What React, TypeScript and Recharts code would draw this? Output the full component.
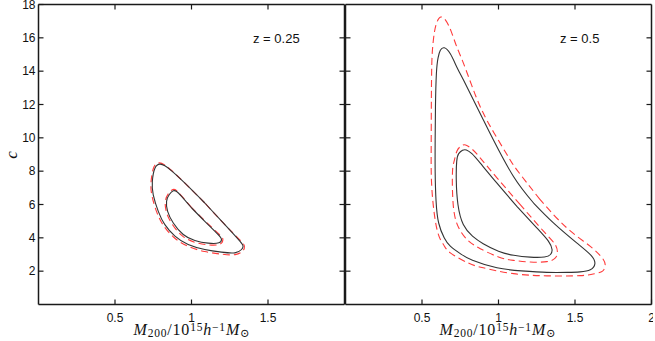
import React from "react";
import { ComposedChart, Line, XAxis, YAxis } from "recharts";

type Pt = [number, number];

const massTicksLeft = [0.5, 1, 1.5];
const massTicksRight = [0.5, 1, 1.5, 2];
const concTicks = [2, 4, 6, 8, 10, 12, 14, 16, 18];
const edgeTicks = [2, 4, 6, 8, 10, 12, 14, 16];
const panelLabels = ["z = 0.25", "z = 0.5"];

// z = 0.25, solid (black) contours
const lowOuter: Pt[] = [
  [1.087, 6.09], [0.957, 7.28], [0.87, 8.02], [0.826, 8.32], [0.794, 8.42], [0.761, 8.18],
  [0.744, 7.38], [0.75, 6.58], [0.783, 5.59], [0.826, 4.79], [0.892, 4.1], [0.978, 3.6],
  [1.087, 3.3], [1.196, 3.14], [1.283, 3.1], [1.327, 3.3], [1.337, 3.5], [1.316, 3.8],
  [1.218, 4.79], [1.087, 6.09],
];
const lowInner: Pt[] = [
  [1.001, 5.79], [0.935, 6.49], [0.903, 6.78], [0.881, 6.82], [0.855, 6.6], [0.837, 6.19],
  [0.844, 5.59], [0.881, 4.89], [0.946, 4.2], [1.022, 3.84], [1.109, 3.68], [1.179, 3.7],
  [1.196, 3.9], [1.174, 4.2], [1.087, 4.99], [1.001, 5.79],
];
// z = 0.25, dashed (red) contours
const lowOuterAlt: Pt[] = [
  [1.087, 6.09], [0.957, 7.28], [0.87, 8.04], [0.824, 8.38], [0.79, 8.5], [0.755, 8.26],
  [0.736, 7.4], [0.741, 6.55], [0.773, 5.54], [0.818, 4.72], [0.886, 4.02], [0.975, 3.5],
  [1.086, 3.18], [1.196, 3.02], [1.285, 2.99], [1.336, 3.22], [1.346, 3.5], [1.322, 3.82],
  [1.218, 4.79], [1.087, 6.09],
];
const lowInnerAlt: Pt[] = [
  [1.001, 5.81], [0.935, 6.52], [0.903, 6.83], [0.878, 6.9], [0.848, 6.64], [0.829, 6.19],
  [0.836, 5.55], [0.873, 4.83], [0.94, 4.12], [1.02, 3.74], [1.11, 3.58], [1.185, 3.62],
  [1.205, 3.9], [1.18, 4.22], [1.09, 5.0], [1.001, 5.81],
];

// z = 0.5, solid (black) contours
const highOuter: Pt[] = [
  [1.229, 6.09], [1.098, 7.68], [0.967, 9.87], [0.902, 11.06], [0.837, 12.26], [0.772, 13.45],
  [0.728, 14.24], [0.685, 15.04], [0.646, 15.4], [0.62, 15.25], [0.605, 14.8], [0.594, 13.85],
  [0.588, 11.86], [0.586, 9.87], [0.586, 8.0], [0.592, 6.2], [0.609, 4.89], [0.645, 4.0],
  [0.685, 3.5], [0.75, 3.05], [0.83, 2.65], [0.99, 2.2], [1.15, 2.02], [1.316, 1.93],
  [1.45, 1.93], [1.533, 1.96], [1.6, 2.08], [1.63, 2.45], [1.605, 2.95], [1.511, 3.7],
  [1.359, 4.9], [1.229, 6.09],
];
const highInner: Pt[] = [
  [1.12, 5.89], [0.99, 7.28], [0.881, 8.48], [0.826, 9.05], [0.79, 9.27], [0.765, 9.25],
  [0.74, 9.05], [0.727, 8.6], [0.724, 7.48], [0.735, 6.0], [0.77, 4.8], [0.83, 4.1],
  [0.9, 3.65], [1.0, 3.2], [1.1, 2.95], [1.207, 2.84], [1.3, 2.85], [1.34, 3.0],
  [1.35, 3.3], [1.326, 3.8], [1.25, 4.6], [1.12, 5.89],
];
// z = 0.5, dashed (red) contours
const highOuterAlt: Pt[] = [
  [1.272, 6.29], [1.12, 8.08], [1.055, 9.0], [0.924, 11.06], [0.837, 12.85], [0.772, 14.45],
  [0.728, 15.44], [0.69, 16.4], [0.655, 17.05], [0.622, 17.25], [0.598, 16.95], [0.581, 16.33],
  [0.568, 15.24], [0.563, 13.95], [0.561, 11.86], [0.56, 9.27], [0.565, 6.88], [0.598, 4.5],
  [0.64, 3.6], [0.685, 3.1], [0.8, 2.5], [0.9, 2.2], [1.098, 1.85], [1.316, 1.72],
  [1.533, 1.73], [1.63, 1.85], [1.68, 2.0], [1.696, 2.3], [1.685, 2.7], [1.598, 3.5],
  [1.446, 4.6], [1.272, 6.29],
];
const highInnerAlt: Pt[] = [
  [1.142, 5.99], [0.99, 7.6], [0.88, 8.8], [0.83, 9.3], [0.785, 9.57], [0.755, 9.5],
  [0.728, 9.2], [0.71, 8.6], [0.699, 7.88], [0.705, 5.89], [0.74, 4.6], [0.8, 3.85],
  [0.881, 3.35], [1.0, 2.85], [1.098, 2.65], [1.207, 2.55], [1.316, 2.57], [1.37, 2.78],
  [1.385, 3.1], [1.37, 3.6], [1.294, 4.4], [1.142, 5.99],
];

const toRows = (pts: Pt[]) => pts.map(([x, y]) => ({ x, y }));

const AXIS = "#1a1a1a";
const SOLID = "#333333";
const DASHED = "#ff3b3b";
const SANS = "'Liberation Sans', Arial, sans-serif";
const axisLine = { stroke: AXIS, strokeWidth: 1.5 };
const TICK_LEN = 5;
const BOTTOM_GAP = 9;
const LEFT_GAP = 3;

type Side = "bottom" | "top" | "left" | "right";

// draws an inward tick mark (and optionally its label) at the position the axis hands over
function inwardTick(side: Side, gap: number, withLabel: boolean) {
  return (props: any) => {
    const { x, y, payload } = props;
    let line: [number, number, number, number];
    if (side === "bottom") line = [x, y - gap, x, y - gap - TICK_LEN];
    else if (side === "top") line = [x, y + gap, x, y + gap + TICK_LEN];
    else if (side === "left") line = [x + gap, y, x + gap + TICK_LEN, y];
    else line = [x - gap, y, x - gap - TICK_LEN, y];
    return (
      <g>
        <line x1={line[0]} y1={line[1]} x2={line[2]} y2={line[3]} stroke={AXIS} strokeWidth={1.2} />
        {withLabel && (
          <text
            x={x}
            y={y}
            dy={side === "bottom" ? "0.71em" : "0.355em"}
            textAnchor={side === "bottom" ? "middle" : "end"}
            fill="#111"
            fontSize={12}
            fontFamily={SANS}
          >
            {payload.value}
          </text>
        )}
      </g>
    );
  };
}

interface PanelProps {
  width: number;
  yAxisWidth: number;
  xTicks: number[];
  solid: Pt[][];
  dashed: Pt[][];
  showYLabels: boolean;
}

function Panel({ width, yAxisWidth, xTicks, solid, dashed, showYLabels }: PanelProps) {
  return (
    <ComposedChart width={width} height={341} margin={{ top: 3.5, right: 0.5, bottom: 6.5, left: 0.5 }}>
      <XAxis
        xAxisId="b"
        type="number"
        dataKey="x"
        domain={[0, 2]}
        ticks={xTicks}
        interval={0}
        height={30}
        tickSize={0}
        tickMargin={BOTTOM_GAP}
        axisLine={axisLine}
        tickLine={false}
        tick={inwardTick("bottom", BOTTOM_GAP, true)}
      />
      <XAxis
        xAxisId="t"
        orientation="top"
        type="number"
        dataKey="x"
        domain={[0, 2]}
        ticks={[0.5, 1, 1.5]}
        interval={0}
        height={1}
        tickSize={0}
        tickMargin={0}
        axisLine={axisLine}
        tickLine={false}
        tick={inwardTick("top", 0, false)}
      />
      <YAxis
        yAxisId="l"
        type="number"
        domain={[0, 18]}
        ticks={showYLabels ? concTicks : edgeTicks}
        interval={0}
        width={yAxisWidth}
        tickSize={0}
        tickMargin={showYLabels ? LEFT_GAP : 0}
        axisLine={axisLine}
        tickLine={false}
        tick={inwardTick("left", showYLabels ? LEFT_GAP : 0, showYLabels)}
      />
      <YAxis
        yAxisId="r"
        orientation="right"
        type="number"
        domain={[0, 18]}
        ticks={edgeTicks}
        interval={0}
        width={1}
        tickSize={0}
        tickMargin={0}
        axisLine={axisLine}
        tickLine={false}
        tick={inwardTick("right", 0, false)}
      />
      {/* keeps the top and right frame axes bound to data */}
      <Line
        xAxisId="t"
        yAxisId="r"
        data={toRows(solid[0])}
        dataKey="y"
        stroke="none"
        dot={false}
        activeDot={false}
        isAnimationActive={false}
      />
      {dashed.map((c, i) => (
        <Line
          key={`d${i}`}
          xAxisId="b"
          yAxisId="l"
          data={toRows(c)}
          dataKey="y"
          type="natural"
          stroke={DASHED}
          strokeWidth={1.1}
          strokeDasharray="7 4"
          dot={false}
          activeDot={false}
          isAnimationActive={false}
        />
      ))}
      {solid.map((c, i) => (
        <Line
          key={`s${i}`}
          xAxisId="b"
          yAxisId="l"
          data={toRows(c)}
          dataKey="y"
          type="natural"
          stroke={SOLID}
          strokeWidth={1.1}
          dot={false}
          activeDot={false}
          isAnimationActive={false}
        />
      ))}
    </ComposedChart>
  );
}

const serif = "'Liberation Serif', 'DejaVu Serif', serif";
const small = (top: number): React.CSSProperties => ({ fontSize: 11.5, position: "relative", top, fontStyle: "normal" });

function MassLabel({ cx }: { cx: number }) {
  return (
    <div
      style={{
        position: "absolute",
        left: cx,
        top: 321.5,
        transform: "translateX(-50%)",
        fontFamily: serif,
        fontSize: 16,
        letterSpacing: 0.8,
        whiteSpace: "nowrap",
        lineHeight: "16px",
        color: "#111",
      }}
    >
      <i>M</i>
      <span style={small(2.3)}>200</span>/10<span style={small(-3.5)}>15</span>
      <i>h</i>
      <span style={small(-3.5)}>−1</span>
      <i>M</i>
      <span style={small(2.3)}>⊙</span>
    </div>
  );
}

const noteStyle = (left: number): React.CSSProperties => ({
  position: "absolute",
  left,
  top: 31,
  fontFamily: SANS,
  fontSize: 13,
  color: "#111",
  whiteSpace: "nowrap",
});

export default function App() {
  return (
    <div style={{ position: "absolute", left: 0, top: 0, width: 655, height: 341, background: "#fff" }}>
      <div style={{ position: "absolute", left: 0, top: 0 }}>
        <Panel
          width={346}
          yAxisWidth={38}
          xTicks={massTicksLeft}
          solid={[lowOuter, lowInner]}
          dashed={[lowOuterAlt, lowInnerAlt]}
          showYLabels
        />
      </div>
      <div style={{ position: "absolute", left: 344, top: 0 }}>
        <Panel
          width={309}
          yAxisWidth={1}
          xTicks={massTicksRight}
          solid={[highOuter, highInner]}
          dashed={[highOuterAlt, highInnerAlt]}
          showYLabels={false}
        />
      </div>
      <div
        style={{
          position: "absolute",
          left: 12,
          top: 155,
          transform: "translate(-50%, -50%) rotate(-90deg)",
          fontFamily: serif,
          fontStyle: "italic",
          fontSize: 17,
          color: "#111",
        }}
      >
        c
      </div>
      <MassLabel cx={192} />
      <MassLabel cx={498} />
      <div style={noteStyle(253)}>{panelLabels[0]}</div>
      <div style={noteStyle(560)}>{panelLabels[1]}</div>
    </div>
  );
}
